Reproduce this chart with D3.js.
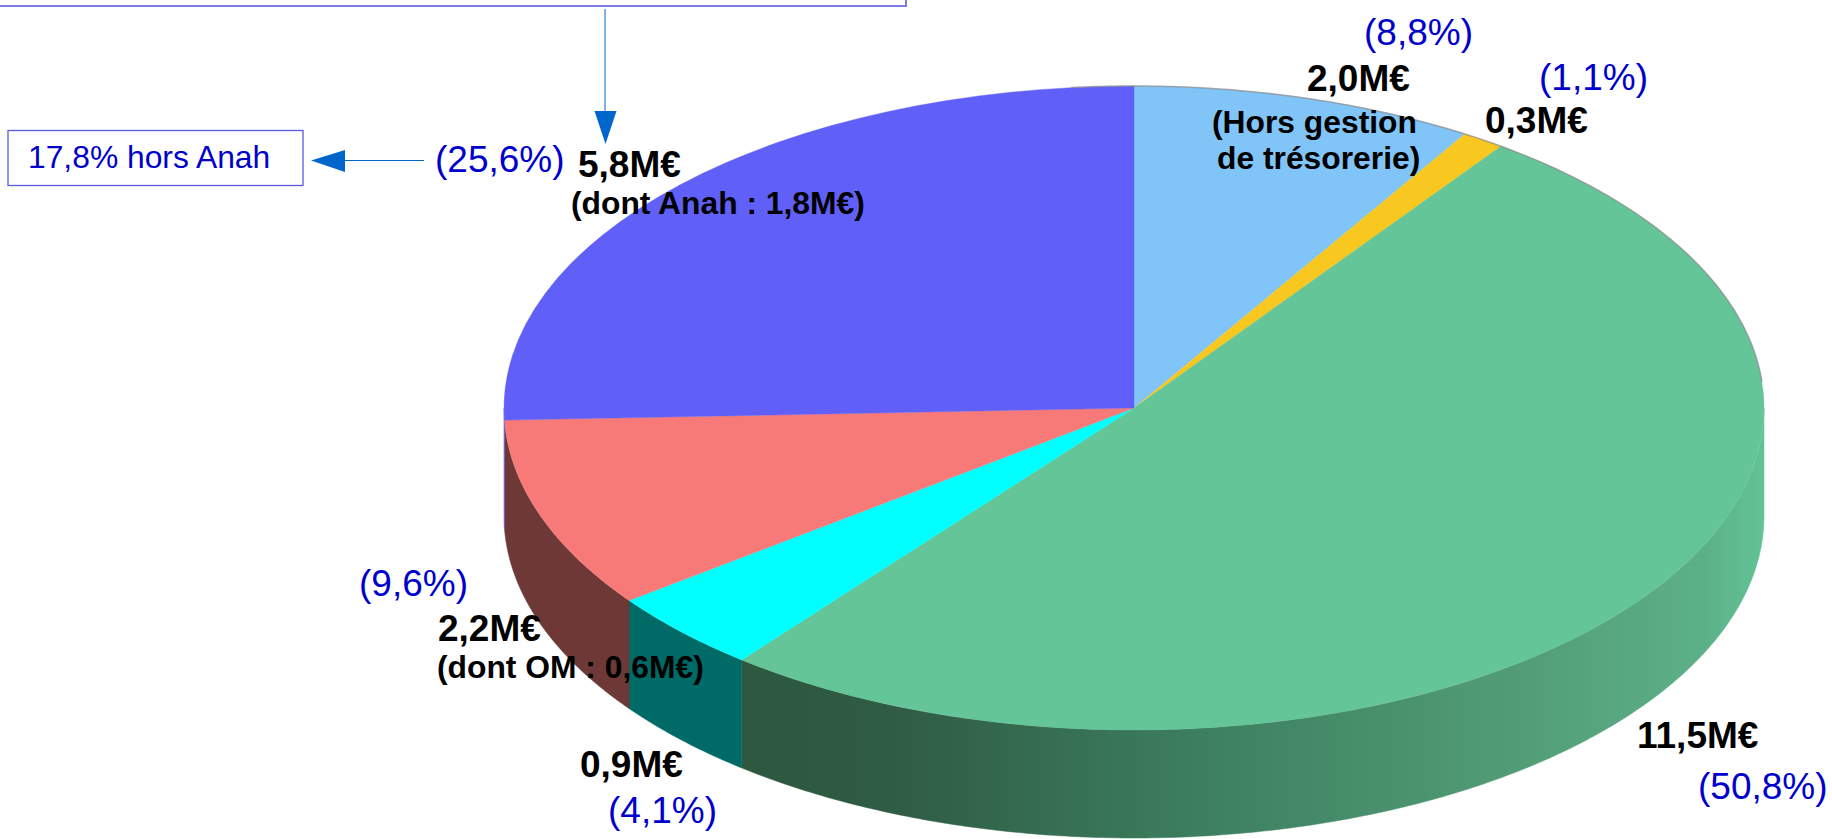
<!DOCTYPE html>
<html>
<head>
<meta charset="utf-8">
<script src="https://cdn.jsdelivr.net/npm/d3@7"></script>
<style>
  html, body { margin: 0; padding: 0; background: #fff; overflow: hidden; }
  text { font-family: "Liberation Sans", Arial, sans-serif; }
</style>
</head>
<body>
<div id="chart"></div>
<script>
// values (clockwise from 12 o'clock)
var percents = [8.8, 1.1, 50.8, 4.1, 9.6, 25.6];
var amountLabels = ["2,0M€", "0,3M€", "11,5M€", "0,9M€", "2,2M€", "5,8M€"];
var percentLabels = ["(8,8%)", "(1,1%)", "(50,8%)", "(4,1%)", "(9,6%)", "(25,6%)"];

var noteLabels = ["(Hors gestion", "de trésorerie)", "(dont OM : 0,6M€)", "(dont Anah : 1,8M€)"];
var boxLabel = "17,8% hors Anah";

// styles, separate from the values
var topColors = ["#80c4f8", "#f8c820", "#63c598", "#00ffff", "#f87a78", "#6060f8"];
var sideColors = ["#80c4f8", "#f8c820", "url(#greenSide)", "#006a66", "#6d3835", "#6060f8"];

var svgWidth = 1832;
var svgHeight = 839;

// pie geometry
var cx = 1134;
var cy = 408;
var rx = 630;
var ry = 322;
var depth = 108;

// label anchors [x, baseline]
var amountPos = [[1307, 91], [1485, 133], [1637, 748], [580, 777], [438, 641], [578, 177]];
var percentPos = [[1364, 45], [1539, 90], [1698, 799], [608, 823], [359, 596], [435, 172]];
var notePos = [[1212, 133], [1217, 169], [437, 678], [571, 214]];

var svg = d3.select("#chart")
  .append("svg")
  .attr("width", svgWidth)
  .attr("height", svgHeight)
  .style("display", "block");

var pie = d3.pie().sort(null).value(d => d);
var slices = pie(percents);

// ellipse point for a clockwise angle from the top
function rimX(a) { return cx + rx * Math.sin(a); }
function rimY(a) { return cy - ry * Math.cos(a); }

// gradient on the side of the big slice
var grad = svg.append("defs").append("linearGradient")
  .attr("id", "greenSide")
  .attr("gradientUnits", "userSpaceOnUse")
  .attr("x1", rimX(slices[2].endAngle))
  .attr("x2", cx + rx)
  .attr("y1", 0)
  .attr("y2", 0);

[[0, "#2e5840"], [0.15, "#2f5c44"], [0.46, "#3d8060"], [0.75, "#519c76"], [0.94, "#5cb088"], [1, "#62c296"]]
  .forEach(function(s) {
    grad.append("stop").attr("offset", s[0]).attr("stop-color", s[1]);
  });

// side walls, only the part that faces the viewer
var line = d3.line();
var sideGroup = svg.append("g");

slices.forEach(function(d, i) {
  var a0 = Math.max(d.startAngle, Math.PI / 2);
  var a1 = Math.min(d.endAngle, Math.PI * 1.5);
  if (a1 <= a0) return;

  var steps = d3.range(a0, a1, 0.01).concat([a1]);
  var upper = steps.map(a => [rimX(a), rimY(a)]);
  var lower = steps.slice().reverse().map(a => [rimX(a), rimY(a) + depth]);

  sideGroup.append("path")
    .attr("d", line(upper.concat(lower)) + "Z")
    .attr("fill", sideColors[i])
    .attr("stroke", sideColors[i])
    .attr("stroke-width", 0.5);
});

// top face : a circular d3 arc squashed into the ellipse
var arc = d3.arc().innerRadius(0).outerRadius(rx);

var topGroup = svg.append("g")
  .attr("transform", `translate(${cx}, ${cy}) scale(1, ${ry / rx})`);

topGroup.selectAll("path")
  .data(slices)
  .enter()
  .append("path")
  .attr("d", arc)
  .attr("fill", (d, i) => topColors[i])
  .attr("stroke", (d, i) => topColors[i])
  .attr("stroke-width", 0.5);

// soft grey edge along the back of the pie
var backAngles = d3.range(-0.1, Math.PI / 2 - 0.08, 0.01);
svg.append("path")
  .attr("d", line(backAngles.map(a => [rimX(a), rimY(a)])))
  .attr("fill", "none")
  .attr("stroke", "#8a8a8a")
  .attr("stroke-opacity", 0.7)
  .attr("stroke-width", 1.5);

// big box cut by the top of the picture
svg.append("rect")
  .attr("x", -3)
  .attr("y", -30)
  .attr("width", 909)
  .attr("height", 36)
  .attr("fill", "#fff")
  .attr("stroke", "#7c7ce4")
  .attr("stroke-width", 2);

// small box
svg.append("rect")
  .attr("x", 8)
  .attr("y", 130.5)
  .attr("width", 295)
  .attr("height", 55)
  .attr("fill", "#fff")
  .attr("stroke", "#5a5ae0")
  .attr("stroke-width", 1.3);

svg.append("text")
  .attr("x", 28)
  .attr("y", 168)
  .attr("font-size", 31.8)
  .attr("fill", "#0000cc")
  .text(boxLabel);

// arrows
var arrowColor = "#0066cc";

svg.append("line")
  .attr("x1", 605).attr("y1", 9)
  .attr("x2", 605).attr("y2", 114)
  .attr("stroke", arrowColor)
  .attr("stroke-width", 1);

svg.append("path")
  .attr("d", line([[594.5, 111], [616.5, 111], [605.5, 144]]) + "Z")
  .attr("fill", arrowColor);

svg.append("line")
  .attr("x1", 424).attr("y1", 160.5)
  .attr("x2", 343).attr("y2", 160.5)
  .attr("stroke", arrowColor)
  .attr("stroke-width", 1);

svg.append("path")
  .attr("d", line([[345, 150], [345, 172], [311, 160.5]]) + "Z")
  .attr("fill", arrowColor);

// labels
svg.append("g").selectAll("text")
  .data(percentLabels)
  .enter()
  .append("text")
  .attr("x", (d, i) => percentPos[i][0])
  .attr("y", (d, i) => percentPos[i][1])
  .attr("font-size", 37)
  .attr("fill", "#0000cc")
  .text(d => d);

svg.append("g").selectAll("text")
  .data(amountLabels)
  .enter()
  .append("text")
  .attr("x", (d, i) => amountPos[i][0])
  .attr("y", (d, i) => amountPos[i][1])
  .attr("font-size", 37)
  .attr("font-weight", "bold")
  .attr("fill", "#000")
  .text(d => d);

svg.append("g").selectAll("text")
  .data(noteLabels)
  .enter()
  .append("text")
  .attr("x", (d, i) => notePos[i][0])
  .attr("y", (d, i) => notePos[i][1])
  .attr("font-size", 31.8)
  .attr("font-weight", "bold")
  .attr("fill", "#000")
  .text(d => d);
</script>
</body>
</html>
